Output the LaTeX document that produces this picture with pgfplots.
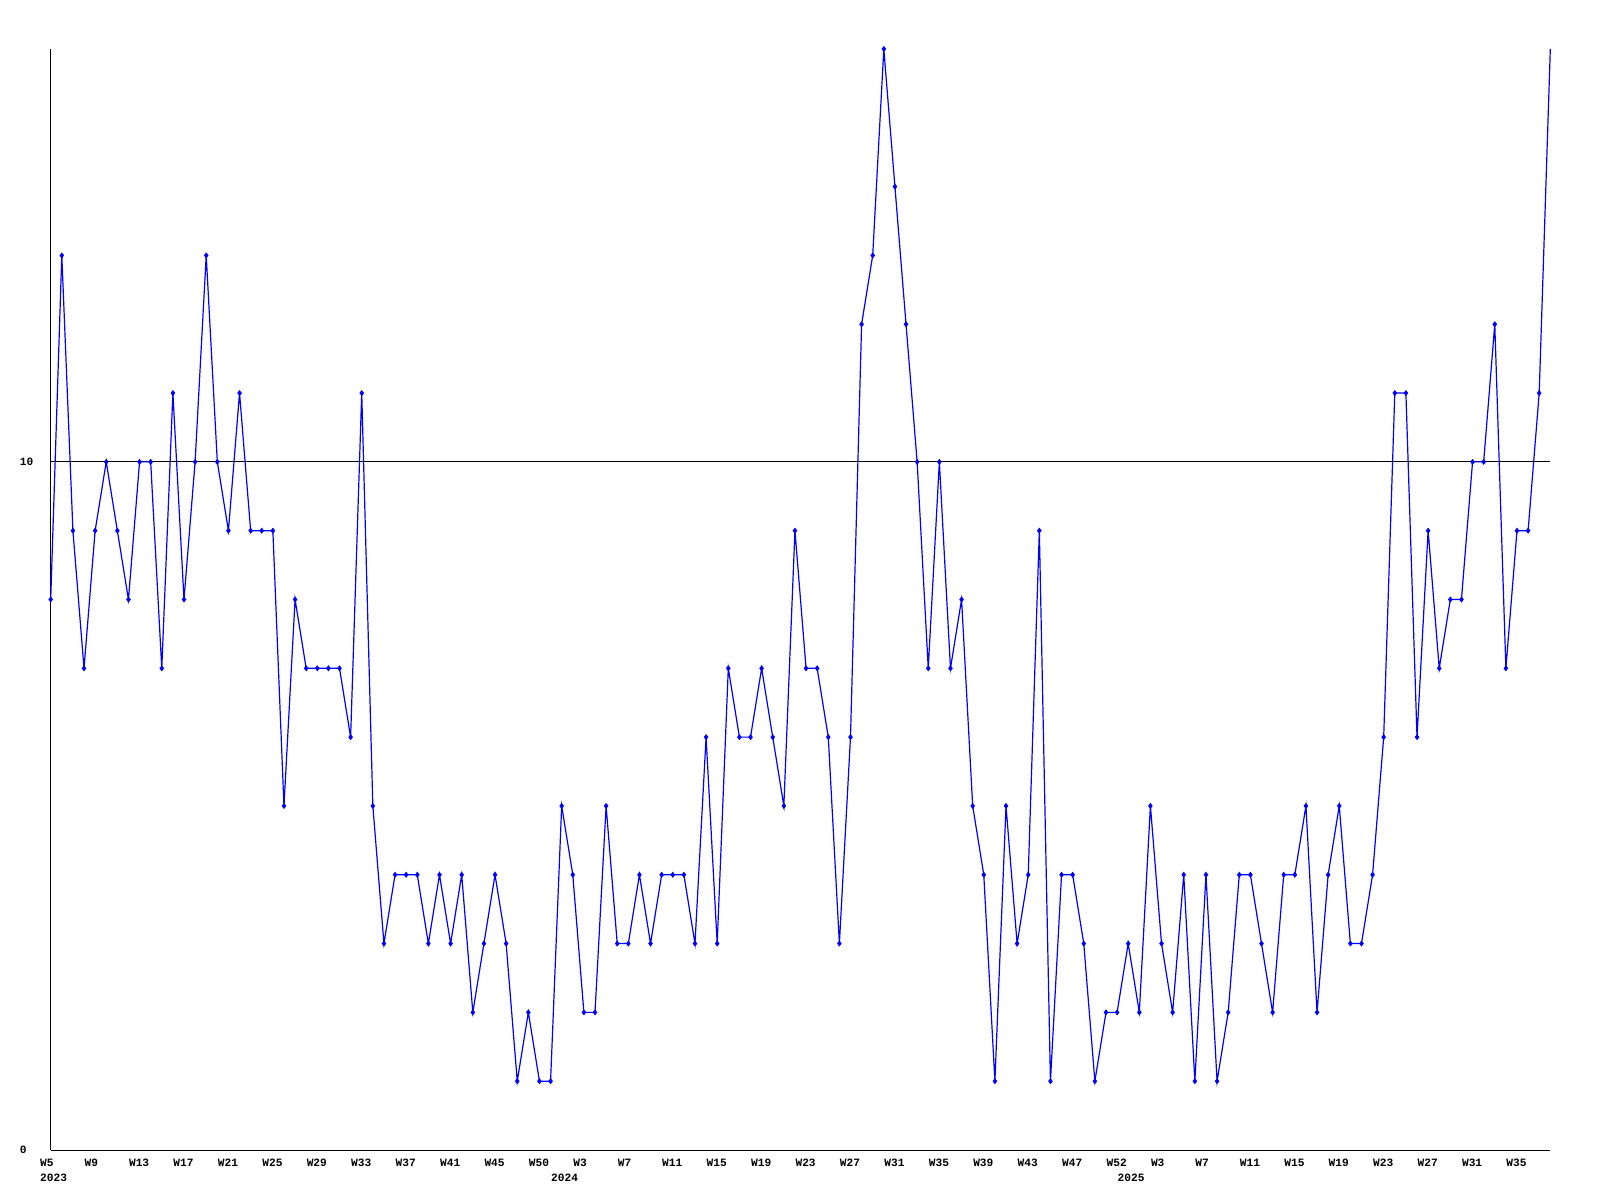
\documentclass[border=0pt]{standalone}
\usepackage{pgfplots}
\pgfplotsset{compat=1.18}
\usepackage{pgfplotstable}
\usepackage{fontspec}
\setmainfont{Liberation Sans}
\newfontfamily\labmono{Liberation Mono}
\newcommand\labfont{\fontsize{5.6pt}{6pt}\selectfont\labmono\bfseries}
\pgfplotstableread{
i v
0 8
1 13
2 9
3 7
4 9
5 10
6 9
7 8
8 10
9 10
10 7
11 11
12 8
13 10
14 13
15 10
16 9
17 11
18 9
19 9
20 9
21 5
22 8
23 7
24 7
25 7
26 7
27 6
28 11
29 5
30 3
31 4
32 4
33 4
34 3
35 4
36 3
37 4
38 2
39 3
40 4
41 3
42 1
43 2
44 1
45 1
46 5
47 4
48 2
49 2
50 5
51 3
52 3
53 4
54 3
55 4
56 4
57 4
58 3
59 6
60 3
61 7
62 6
63 6
64 7
65 6
66 5
67 9
68 7
69 7
70 6
71 3
72 6
73 12
74 13
75 16
76 14
77 12
78 10
79 7
80 10
81 7
82 8
83 5
84 4
85 1
86 5
87 3
88 4
89 9
90 1
91 4
92 4
93 3
94 1
95 2
96 2
97 3
98 2
99 5
100 3
101 2
102 4
103 1
104 4
105 1
106 2
107 4
108 4
109 3
110 2
111 4
112 4
113 5
114 2
115 4
116 5
117 3
118 3
119 4
120 6
121 11
122 11
123 6
124 9
125 7
126 8
127 8
128 10
129 10
130 12
131 7
132 9
133 9
134 11
135 16
}\datatable
\begin{document}
\begin{tikzpicture}
\useasboundingbox (0,0) rectangle (800pt,600pt);
\begin{axis}[
  at={(25.35pt,25pt)}, anchor=south west,
  scale only axis, width=749.8pt, height=550.5pt,
  xmin=0, xmax=135, ymin=0, ymax=16,
  clip=false,
  axis lines=left,
  axis line style={-, black, line width=0.5pt},
  major tick length=0pt,
  xtick={0,4,...,132},
  xticklabels={W5,W9,W13,W17,W21,W25,W29,W33,W37,W41,W45,W50,W3,W7,W11,W15,W19,W23,W27,W31,W35,W39,W43,W47,W52,W3,W7,W11,W15,W19,W23,W27,W31,W35},
  xticklabel style={anchor=north west, inner sep=0pt, xshift=-5.46pt, yshift=-4.5pt, font=\labfont},
  extra x ticks={0,46,97},
  extra x tick labels={2023,2024,2025},
  extra x tick style={xticklabel style={yshift=-7.5pt}},
  ytick={0,10},
  yticklabels={0,10},
  yticklabel style={anchor=west, inner sep=0pt, xshift=-15.65pt, font=\labfont},
  ymajorgrids,
  major grid style={black, line width=0.5pt},
]
\addplot[blue, line width=0.6pt, no markers] table[x=i,y=v]{\datatable};
\addplot[blue, only marks, mark=diamond*, mark size=1.2pt, restrict x to domain=0:134] table[x=i,y=v]{\datatable};
\end{axis}
\end{tikzpicture}
\end{document}
